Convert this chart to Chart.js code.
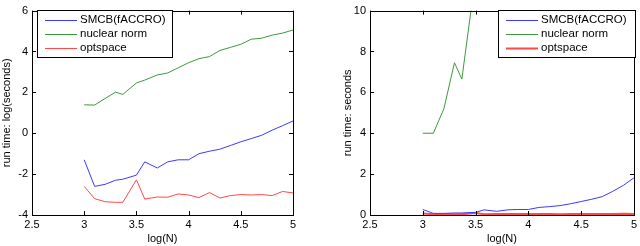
<!DOCTYPE html>
<html>
<head>
<meta charset="utf-8">
<script src="https://cdn.jsdelivr.net/npm/chart.js@4/dist/chart.umd.min.js"></script>
<style>
  body { margin:0; background:#fff; }
  .wrap { position:absolute; top:0; width:320px; height:246px; }
  #left { left:0; }
  #right { left:320px; }
</style>
</head>
<body>
<div class="wrap" id="left"><canvas id="logChart"></canvas></div>
<div class="wrap" id="right"><canvas id="secChart"></canvas></div>
<script>
// x values: log(N)
const logN = [3, 3.1, 3.2, 3.3, 3.37, 3.5, 3.58, 3.7, 3.8, 3.9, 4.0, 4.1, 4.2, 4.3, 4.4, 4.5, 4.6, 4.7, 4.8, 4.9, 5.0];

// left panel: log(seconds)
const smcbLog     = [-1.3, -2.6, -2.5, -2.3, -2.25, -2.05, -1.4, -1.7, -1.4, -1.3, -1.3, -1.0, -0.88, -0.78, -0.6, -0.42, -0.26, -0.1, 0.15, 0.37, 0.6];
const nuclearLog  = [1.39, 1.38, 1.7, 2.01, 1.9, 2.46, 2.6, 2.85, 2.95, 3.2, 3.45, 3.65, 3.75, 4.05, 4.2, 4.35, 4.6, 4.65, 4.8, 4.9, 5.05];
const optspaceLog = [-2.6, -3.2, -3.35, -3.38, -3.38, -2.28, -3.22, -3.12, -3.13, -2.97, -3.02, -3.15, -2.9, -3.17, -3.05, -3.0, -3.02, -3.0, -3.05, -2.85, -2.92];

// right panel: seconds
const smcbSec     = [0.27, 0.08, 0.08, 0.1, 0.1, 0.13, 0.25, 0.18, 0.25, 0.27, 0.27, 0.37, 0.41, 0.46, 0.55, 0.66, 0.77, 0.9, 1.16, 1.45, 1.82];
const nuclearSec  = [4.0, 4.0, 5.2, 7.45, 6.65, 11.7, 13.5, 17.3, 19.1, 24.5, 31.5, 38.5, 42.5, 57.4, 66.7, 77.5, 99.5, 104.6, 121.5, 134.3, 156.0];
const optspaceSec = [0.07, 0.04, 0.035, 0.034, 0.034, 0.1, 0.04, 0.044, 0.044, 0.05, 0.049, 0.043, 0.055, 0.042, 0.047, 0.05, 0.049, 0.05, 0.047, 0.058, 0.054];

const seriesNames = ["SMCB(fACCRO)", "nuclear norm", "optspace"];
const xTicks = [2.5, 3, 3.5, 4, 4.5, 5];
const leftYTicks = [-4, -2, 0, 2, 4, 6];
const rightYTicks = [0, 2, 4, 6, 8, 10];

const FONT = "'Liberation Sans', Arial, sans-serif";

function pts(ys){
    return logN.map((x, i) => ({x:x, y:ys[i]}));
}

// matlab style box with inward ticks on all four sides
const framePlugin = {
    id:"frame",
    afterDatasetsDraw(chart){
        const ctx = chart.ctx;
        const a = chart.chartArea;
        const xs = chart.scales.x, ys = chart.scales.y;
        ctx.save();
        ctx.strokeStyle = "#000";
        ctx.lineWidth = 1;
        ctx.strokeRect(Math.round(a.left)+0.5, Math.round(a.top)+0.5, Math.round(a.right-a.left), Math.round(a.bottom-a.top));
        ctx.beginPath();
        xs.ticks.forEach(t => {
            let p = Math.round(xs.getPixelForValue(t.value))+0.5;
            ctx.moveTo(p, a.bottom); ctx.lineTo(p, a.bottom-4);
            ctx.moveTo(p, a.top); ctx.lineTo(p, a.top+4);
        });
        ys.ticks.forEach(t => {
            let p = Math.round(ys.getPixelForValue(t.value))+0.5;
            ctx.moveTo(a.left, p); ctx.lineTo(a.left+4, p);
            ctx.moveTo(a.right, p); ctx.lineTo(a.right-4, p);
        });
        ctx.stroke();
        ctx.restore();
    }
};

const boxLegend = {
    id:"boxLegend",
    afterDraw(chart, args, opts){
        const ctx = chart.ctx;
        ctx.save();
        ctx.fillStyle = "#fff";
        ctx.fillRect(opts.x, opts.y, opts.w, opts.h);
        ctx.strokeStyle = "#000";
        ctx.lineWidth = 1;
        ctx.strokeRect(opts.x+0.5, opts.y+0.5, opts.w, opts.h);
        ctx.font = "11.5px " + FONT;
        ctx.textBaseline = "middle";
        chart.data.datasets.forEach((ds, i) => {
            let yy = opts.y + 10 + i*14;
            ctx.strokeStyle = ds.borderColor;
            ctx.lineWidth = ds.borderWidth;
            ctx.beginPath();
            ctx.moveTo(opts.x+8, yy+0.5); ctx.lineTo(opts.x+40, yy+0.5);
            ctx.stroke();
            ctx.fillStyle = "#000";
            ctx.fillText(ds.label, opts.x+43, yy);
        });
        ctx.restore();
    }
};

function makeChart(id, data, yMin, yMax, yTicks, yTitle, titlePad, pad, yWidth, legendPos, redWidth){
    return new Chart(document.getElementById(id), {
        type:"line",
        data:{
            datasets:[
                {label:seriesNames[0], data:pts(data[0]), borderColor:"#3a3aff", borderWidth:1},
                {label:seriesNames[1], data:pts(data[1]), borderColor:"#3c9a3c", borderWidth:1},
                {label:seriesNames[2], data:pts(data[2]), borderColor:"#ff4848", borderWidth:redWidth}
            ]
        },
        options:{
            responsive:true,
            maintainAspectRatio:false,
            animation:false,
            layout:{padding:pad},
            elements:{point:{radius:0}, line:{tension:0}},
            plugins:{
                legend:{display:false},
                tooltip:{enabled:false},
                boxLegend:legendPos
            },
            scales:{
                x:{
                    type:"linear", min:2.5, max:5,
                    afterBuildTicks: s => { s.ticks = xTicks.map(v => ({value:v})); },
                    afterFit: s => { s.height = 31; },
                    grid:{display:false, drawTicks:false},
                    border:{display:false},
                    ticks:{color:"#000", padding:3, font:{family:FONT, size:11}, callback: v => String(v)},
                    title:{display:true, text:"log(N)", color:"#000", padding:{top:0, bottom:0}, font:{family:FONT, size:11}}
                },
                y:{
                    type:"linear", min:yMin, max:yMax,
                    afterBuildTicks: s => { s.ticks = yTicks.map(v => ({value:v})); },
                    afterFit: s => { s.width = yWidth; },
                    grid:{display:false, drawTicks:false},
                    border:{display:false},
                    ticks:{color:"#000", padding:4, font:{family:FONT, size:11}, callback: v => String(v)},
                    title:{display:true, text:yTitle, color:"#000", padding:{top:titlePad, bottom:0}, font:{family:FONT, size:11}}
                }
            }
        },
        plugins:[framePlugin, boxLegend]
    });
}

makeChart("logChart", [smcbLog, nuclearLog, optspaceLog], -4, 6, leftYTicks,
    "run time: log(seconds)", 0, {top:6, right:27, left:0, bottom:0}, 32, {x:37, y:10, w:135, h:47}, 1);

makeChart("secChart", [smcbSec, nuclearSec, optspaceSec], 0, 10, rightYTicks,
    "run time: seconds", 21, {top:6, right:4, left:0, bottom:0}, 50, {x:178, y:10, w:137, h:47}, 2);
</script>
</body>
</html>
